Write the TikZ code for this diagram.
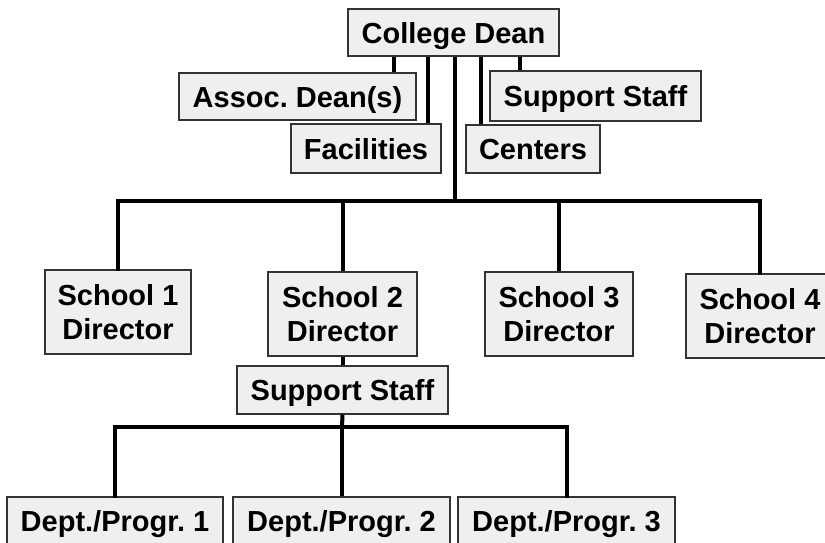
\documentclass[tikz,border=0pt]{standalone}
\usepackage{fontspec}
\setmainfont{Liberation Sans}
\frenchspacing
\definecolor{boxfill}{HTML}{EFEFEF}
\definecolor{boxline}{HTML}{333333}
\begin{document}
\begin{tikzpicture}[x=1pt,y=-1pt,
  box/.style={draw=boxline, fill=boxfill, line width=1.3pt, inner sep=0pt,
    font=\fontsize{29}{34}\selectfont\bfseries\frenchspacing, align=center},
  one/.style={text height=21pt, text depth=0pt},
  conn/.style={line width=4pt, black}]
\useasboundingbox (0,0) rectangle (825,542);
\clip (0,0) rectangle (825,542);
% top level
\node[box, one, minimum width=211, minimum height=47] (cd) at (453.5,32.5) {College Dean};
\node[box, one, minimum width=237, minimum height=47] (assoc) at (297.5,96.5) {Assoc. Dean(s)};
\node[box, one, minimum width=150, minimum height=49] (fac) at (366,148.5) {Facilities};
\node[box, one, minimum width=134, minimum height=48] (cen) at (533,149) {Centers};
\node[box, one, minimum width=211, minimum height=50] (sst) at (595.5,96) {Support Staff};
% schools
\node[box, minimum width=146, minimum height=84] (s1) at (118,312) {School 1\\Director};
\node[box, minimum width=149, minimum height=84] (s2) at (342.5,314) {School 2\\Director};
\node[box, minimum width=148, minimum height=84] (s3) at (559,314) {School 3\\Director};
\node[box, minimum width=148, minimum height=84] (s4) at (760,316) {School 4\\Director};
% school 2 branch
\node[box, one, minimum width=211, minimum height=48] (ss2) at (342.5,390) {Support Staff};
\node[box, one, minimum width=216, minimum height=48] (d1) at (115,521) {Dept./Progr. 1};
\node[box, one, minimum width=217, minimum height=48] (d2) at (341.5,521) {Dept./Progr. 2};
\node[box, one, minimum width=217, minimum height=48] (d3) at (566.5,521) {Dept./Progr. 3};
% helper x positions
\coordinate (xa) at (394,0);
\coordinate (xf) at (428,0);
\coordinate (xt) at (455,0);
\coordinate (xc) at (481,0);
\coordinate (xs) at (520,0);
\coordinate (bar1) at (455,201);
\coordinate (bar2) at (342,427);
% connectors from dean
\draw[conn] (cd.south -| xa) -- (assoc.north -| xa);
\draw[conn] (cd.south -| xf) -- (fac.north -| xf);
\draw[conn] (cd.south -| xc) -- (cen.north -| xc);
\draw[conn] (cd.south -| xs) -- (sst.north -| xs);
\draw[conn] (cd.south -| xt) -- (bar1);
\draw[conn, line cap=rect] (s1.north) -- (s1.north |- bar1) -- (s4.north |- bar1) -- (s4.north);
\draw[conn] (s2.north |- bar1) -- (s2.north);
\draw[conn] (s3.north |- bar1) -- (s3.north);
% school 2 branch
\draw[conn] (s2.south) -- (ss2.north);
\draw[conn] (ss2.south) -- (bar2);
\draw[conn, line cap=rect] (d1.north) -- (d1.north |- bar2) -- (d3.north |- bar2) -- (d3.north);
\draw[conn] (d2.north |- bar2) -- (d2.north);
\end{tikzpicture}
\end{document}
